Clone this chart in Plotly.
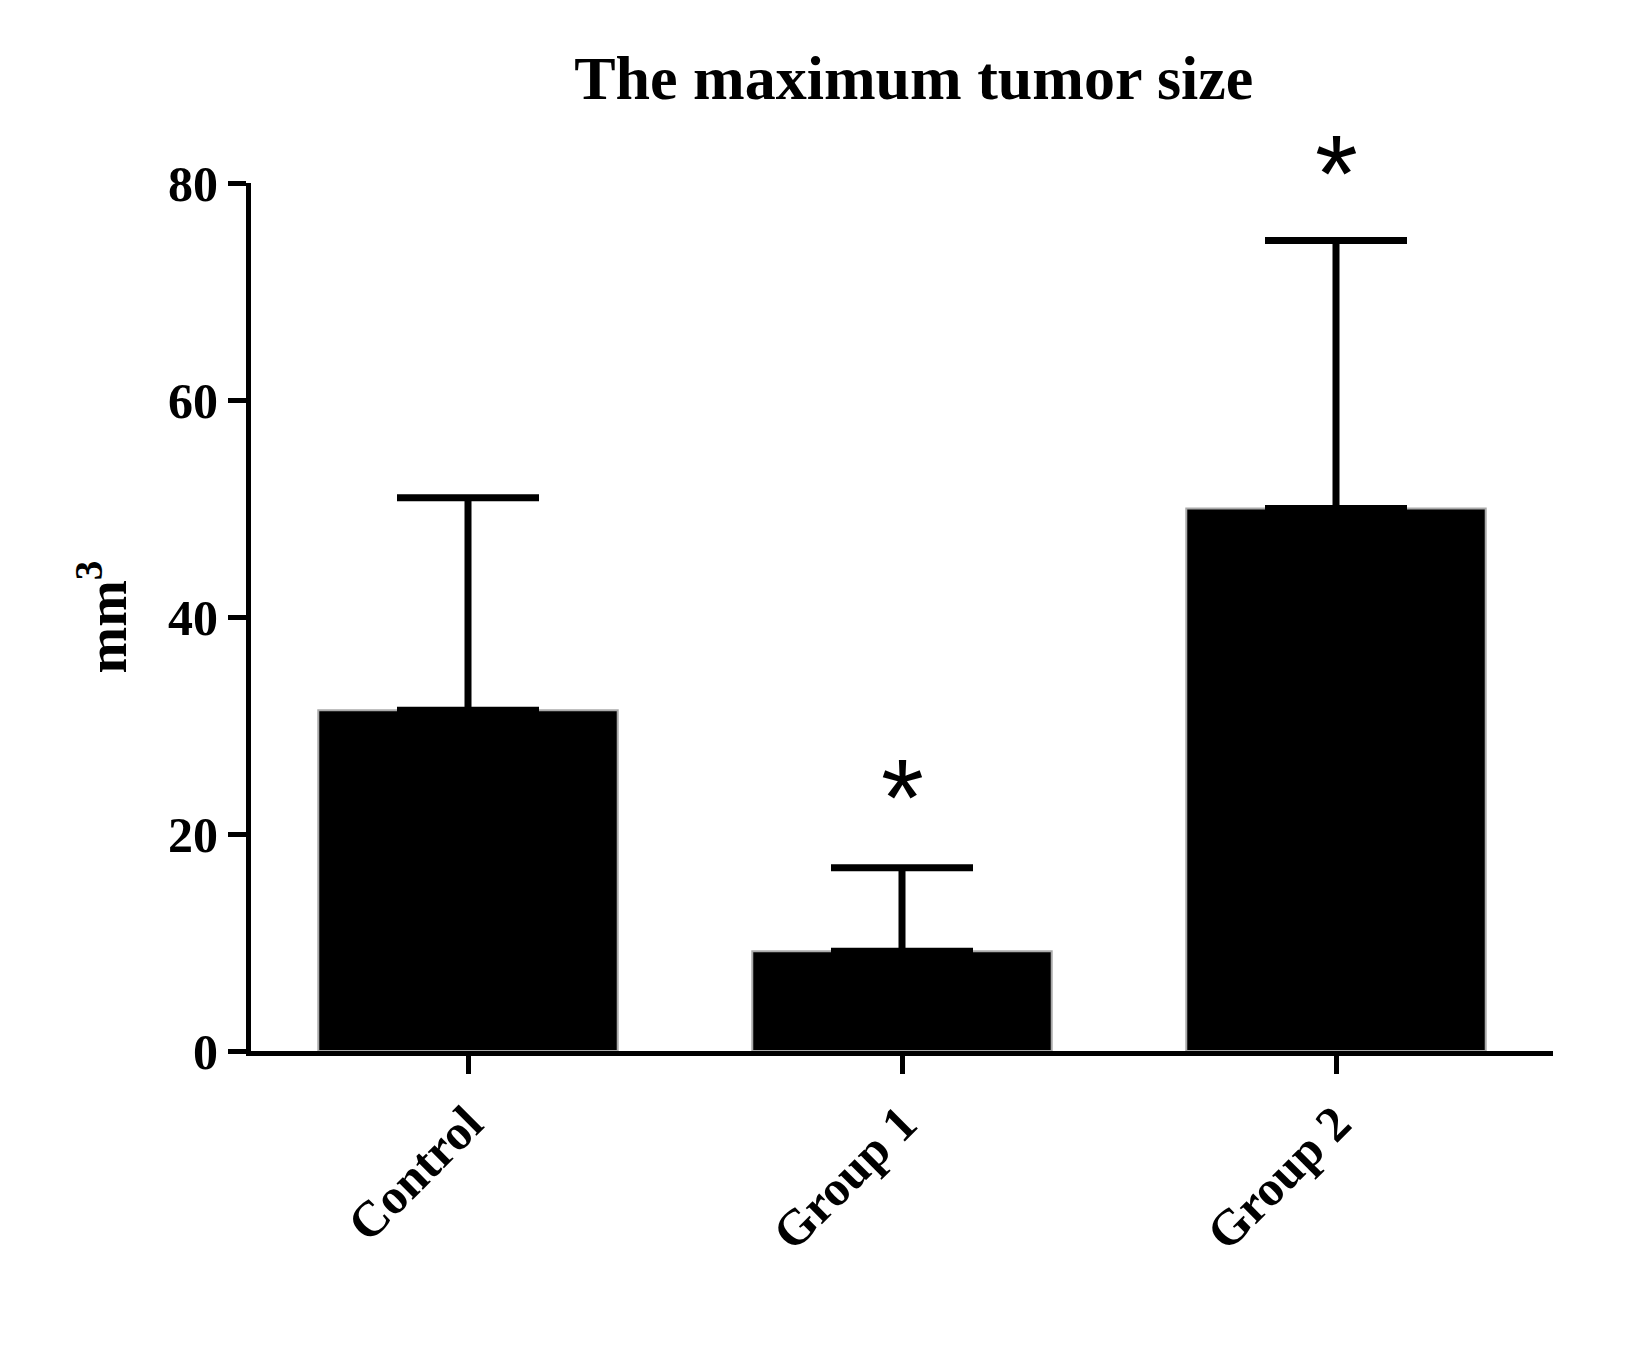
import plotly.graph_objects as go

categories = ["Control", "Group 1", "Group 2"]
means = [31.4, 9.2, 50.0]
errors = [19.6, 7.7, 24.7]
star_y = [None, 23.5, 81.0]
y_max = 80

fig = go.Figure()
fig.add_trace(go.Bar(
    x=categories, y=means, width=0.69,
    marker=dict(color="black", line=dict(color="#aaaaaa", width=2)),
    error_y=dict(type="data", array=errors, arrayminus=[0]*3, symmetric=False,
                 color="black", thickness=7, width=71),
    cliponaxis=False,
))
for c, s in zip(categories, star_y):
    if s is not None:
        fig.add_annotation(x=c, y=s / y_max, yref="y domain", text="*", showarrow=False,
                           yanchor="middle",
                           font=dict(size=110, family="Liberation Sans", color="black"))

font = dict(family="Liberation Serif", size=50, color="black")
fig.update_layout(
    width=1632, height=1353, plot_bgcolor="white", paper_bgcolor="white",
    margin=dict(l=243, r=87, t=175, b=310),
    title=dict(text="<b>The maximum tumor size</b>", x=0.555, xanchor="center", y=0.965,
               font=dict(family="Liberation Serif", size=62, color="black")),
    showlegend=False,
    xaxis=dict(range=[-0.5, 2.5], showline=True, linecolor="black", linewidth=5,
               ticks="outside", ticklen=18, tickwidth=5, tickcolor="black",
               tickangle=-45, tickfont=font, tickprefix="<b>", ticksuffix="</b>"),
    yaxis=dict(range=[0, y_max], dtick=20, showline=True, linecolor="black", linewidth=5,
               ticks="outside", ticklen=18, tickwidth=5, tickcolor="black",
               showgrid=False, zeroline=False, tickfont=font,
               tickprefix="<b>", ticksuffix="</b>",
               title=dict(text="<b>mm<sup>3</sup></b>", font=dict(family="Liberation Serif", size=56, color="black"), standoff=25)),
)
fig.write_html("out.html")
